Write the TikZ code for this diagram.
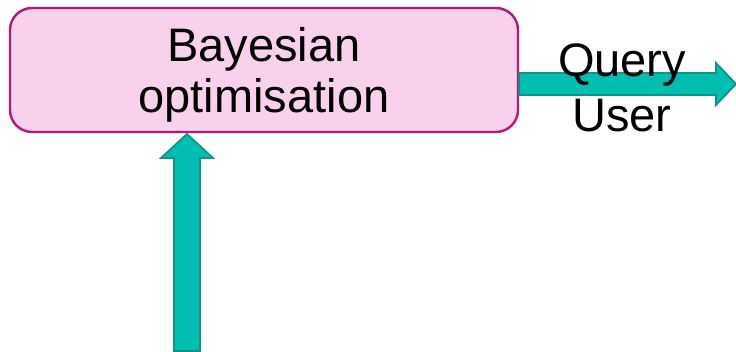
\documentclass[tikz,border=0pt]{standalone}
\usepackage{fontspec}
\setmainfont{Liberation Sans}
\definecolor{boxfill}{HTML}{F8D1EC}
\definecolor{boxline}{HTML}{B3197B}
\definecolor{tealfill}{HTML}{00BFB1}
\definecolor{tealline}{HTML}{119486}
\begin{document}
\begin{tikzpicture}[x=1pt,y=-1pt,
  bobox/.style={draw=boxline,fill=boxfill,line width=2.4pt,rounded corners=22pt,
    minimum width=508pt,minimum height=124pt,inner sep=0pt},
  bigtext/.style={font=\fontsize{47}{51}\selectfont,inner sep=0pt,anchor=base},
  blockarrow/.style={fill=tealfill,draw=tealline,line width=1.8pt,line join=miter}]
\useasboundingbox (0,0) rectangle (736,352);
\node[bobox] (box) at (264,70) {};
\node[bigtext] (t1) at (264,62) {Bayesian};
\node[bigtext] (t2) at (264,113) {optimisation};
% right arrow
\draw[blockarrow] (box.east |- 0,73) -- (716,73) -- (716,63) -- (736,84) -- (716,105) -- (716,95) -- (box.east |- 0,95) -- cycle;
% up arrow
\draw[blockarrow] (174,351) -- (174,158) -- (161,158) -- (187,134) -- (213,158) -- (200,158) -- (200,351) -- cycle;
\node[bigtext] (q1) at (622,77) {Query};
\node[bigtext] (q2) at (622,132) {User};
\end{tikzpicture}
\end{document}
